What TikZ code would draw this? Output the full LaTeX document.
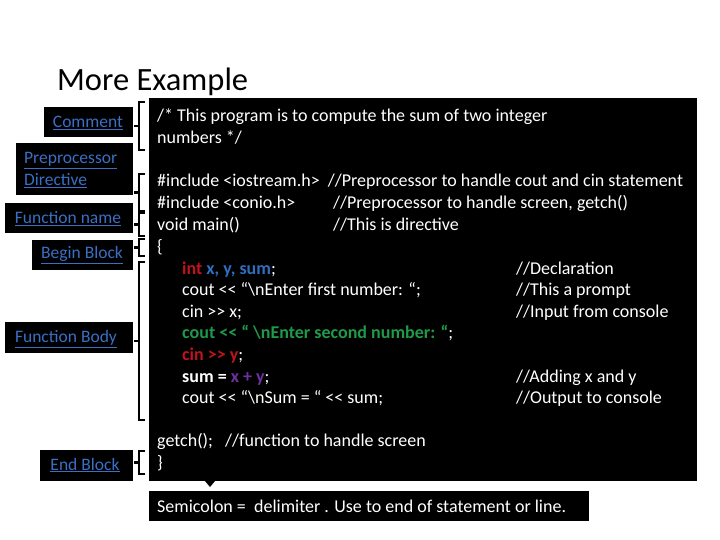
\documentclass[tikz,border=0pt]{standalone}
\usepackage{fontspec}
\setmainfont{Carlito}
\begin{document}
\begin{tikzpicture}[x=1pt,y=-1pt,
  lbl/.style={fill=black,text=linkblue,font=\fontsize{17.5}{21.5}\selectfont,inner sep=0pt,align=left},
  code/.style={anchor=base west,text=white,font=\fontsize{18}{20}\selectfont,inner sep=0pt},
  brk/.style={draw=black,line width=2.2pt}]
\definecolor{linkblue}{HTML}{3A6FC4}
\definecolor{cred}{HTML}{C0141C}
\definecolor{cblue}{HTML}{2E6FC0}
\definecolor{cgreen}{HTML}{1E9A4A}
\definecolor{cpurple}{HTML}{7030A0}
\newcommand{\myll}{{<}{<}}
\newcommand{\mygg}{{>}{>}}
\useasboundingbox (0,0) rectangle (720,540);
\fill[white] (0,0) rectangle (720,540);
\node[anchor=base west,font=\fontsize{32.5}{34}\selectfont,inner sep=0pt] (title) at (57,91) {More Example};
\fill[black] (149,98) rectangle (697,481);
% labels
\fill (44,107) rectangle (133,137); \node[lbl] (l1) at (88,123) {\underline{Comment}};
\fill (16,143) rectangle (133,195); \node[lbl,anchor=west] (l2) at (24,170) {\underline{Preprocessor}\\\underline{Directive}};
\fill (5,203) rectangle (133,233); \node[lbl] (l3) at (68,219) {\underline{Function name}};
\fill (32,240) rectangle (133,270); \node[lbl] (l4) at (82,255) {\underline{Begin Block}};
\fill (5,322) rectangle (133,353); \node[lbl] (l5) at (66,339) {\underline{Function Body}};
\fill (40,450) rectangle (133,481); \node[lbl] (l6) at (85,465) {\underline{End Block}};
% brackets
\foreach \a/\b in {102/150,174/211,213/236,239/256,262/420,451/474}{
  \draw[brk] (145,\a) -- (139,\a) -- (139,\b) -- (145,\b);
  \draw[brk] (139,{(\a+\b)/2}) -- (134,{(\a+\b)/2});
}
% code
\node[code] (c1) at (157,122) {/* This program is to compute the sum of two integer};
\node[code] (c2) at (157,144) {numbers */};
\node[code] (c3) at (157,187) {\#include <iostream.h>\ \ //Preprocessor to handle cout and cin statement};
\node[code] (c4) at (157,209) {\#include <conio.h>};
\node[code] (c4b) at (333,209) {//Preprocessor to handle screen, getch()};
\node[code] (c5) at (157,230) {void main()};
\node[code] (c5b) at (333,230) {//This is directive};
\node[code] (c6) at (157,252) {\{};
\node[code] (c7) at (182,274) {\textbf{\textcolor{cred}{int} \textcolor{cblue}{x, y, sum}};};
\node[code] (c7b) at (516,274) {//Declaration};
\node[code] (c8) at (182,295) {cout \myll{} “\textbackslash nEnter first number: “;};
\node[code] (c8b) at (516,295) {//This a prompt};
\node[code] (c9) at (182,317) {cin \mygg{} x;};
\node[code] (c9b) at (516,317) {//Input from console};
\node[code] (c10) at (182,338) {\textbf{\textcolor{cgreen}{cout \myll{} “ \textbackslash nEnter second number: “}};};
\node[code] (c11) at (182,360) {\textbf{\textcolor{cred}{cin \mygg{} y}};};
\node[code] (c12) at (182,382) {\textbf{sum = \textcolor{cpurple}{x + y}};};
\node[code] (c12b) at (516,382) {//Adding x and y};
\node[code] (c13) at (182,403) {cout \myll{} “\textbackslash nSum = “ \myll{} sum;};
\node[code] (c13b) at (516,403) {//Output to console};
\node[code] (c14) at (157,446) {getch();\ \ \ //function to handle screen};
\node[code] (c15) at (157,468) {\}};
% semicolon box
\fill[black] (149,491) rectangle (589,521);
\node[code] (semi) at (157,512) {Semicolon =\ \ delimiter . Use to end of statement or line.};
\fill[black] (205,481) -- (215,481) -- (210,487) -- cycle;
\end{tikzpicture}
\end{document}
